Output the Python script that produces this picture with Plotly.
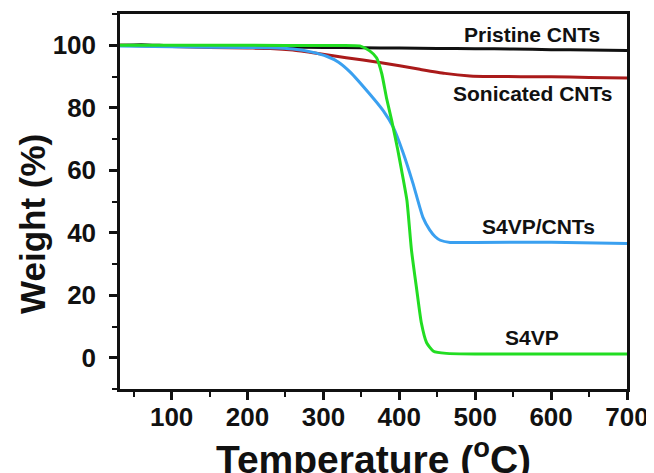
import plotly.graph_objects as go

# Temperature (°C) and weight (%) for each sample
pristine_T = [32, 60, 100, 150, 200, 250, 300, 350, 400, 450, 500, 550, 600, 650, 700]
pristine_W = [100, 100.2, 99.8, 99.6, 99.5, 99.4, 99.3, 99.2, 99.1, 99.0, 98.9, 98.8, 98.6, 98.5, 98.3]

sonic_T = [32, 100, 150, 200, 230, 260, 295, 330, 374, 427, 460, 493, 520, 600, 650, 700]
sonic_W = [100, 99.6, 99.3, 99.1, 99.0, 98.5, 97.3, 96.0, 94.5, 92.3, 91.0, 90.2, 90.0, 89.9, 89.7, 89.5]

s4vpcnt_T = [32, 100, 200, 230, 260, 285, 305, 320, 335, 361, 379, 392, 405, 418, 431, 440, 447, 454, 467, 500, 600, 700]
s4vpcnt_W = [99.8, 99.5, 99.3, 99.2, 98.8, 97.8, 96.4, 94.6, 91.5, 84.4, 79.0, 73.8, 65.6, 55.8, 45.0, 40.9, 38.8, 37.6, 36.9, 36.9, 37.0, 36.6]

s4vp_T = [32, 100, 200, 300, 348, 361, 370, 377, 383, 390, 398, 403, 410, 416, 423, 429, 436, 445, 462, 500, 600, 700]
s4vp_W = [100, 100, 100, 99.9, 99.8, 98.2, 96.0, 90.8, 83.3, 75.9, 66.5, 60.0, 50.4, 34.5, 21.7, 11.2, 4.8, 2.1, 1.4, 1.2, 1.2, 1.2]

labels = ["Pristine CNTs", "Sonicated CNTs", "S4VP/CNTs", "S4VP"]
label_T = [575, 576, 584, 575]
label_W = [103.6, 84.5, 41.9, 6.5]

x_ticks = [100, 200, 300, 400, 500, 600, 700]
y_ticks = [0, 20, 40, 60, 80, 100]

FONT = "Liberation Sans, Arial, sans-serif"

fig = go.Figure()
series = [
    (pristine_T, pristine_W, "#111111"),
    (sonic_T, sonic_W, "#aa1a1a"),
    (s4vpcnt_T, s4vpcnt_W, "#3aa0f0"),
    (s4vp_T, s4vp_W, "#22dd22"),
]
for t, w, c in series:
    fig.add_trace(go.Scatter(x=t, y=w, mode="lines", line=dict(color=c, width=3, shape="spline", smoothing=0.5),
                             showlegend=False, hoverinfo="skip"))

for txt, tx, ty in zip(labels, label_T, label_W):
    fig.add_annotation(x=tx, y=ty, text="<b>" + txt + "</b>", showarrow=False,
                       font=dict(family=FONT, size=21, color="#111111"), xanchor="center", yanchor="middle")

# axis titles
fig.add_annotation(x=0.5, y=-0.109, xref="paper", yref="paper", text="<b>Temperature (<sup>o</sup>C)</b>",
                   showarrow=False, xanchor="center", yanchor="top",
                   font=dict(family=FONT, size=39, color="#111111"))
fig.add_annotation(x=-0.173, y=0.441, xref="paper", yref="paper", text="<b>Weight (%)</b>", textangle=-90,
                   showarrow=False, xanchor="center", yanchor="middle",
                   font=dict(family=FONT, size=35, color="#111111"))

axis_common = dict(showline=True, linecolor="#111111", linewidth=2.5, mirror=True, ticks="outside",
                   tickwidth=2.5, ticklen=8, tickcolor="#111111", showgrid=False, zeroline=False,
                   tickfont=dict(family=FONT, size=26, color="#111111"))

fig.update_xaxes(range=[32, 700], tickvals=x_ticks, ticktext=["<b>%d</b>" % v for v in x_ticks],
                 minor=dict(ticks="outside", ticklen=5, tickwidth=2, tickcolor="#111111", dtick=50, tick0=0),
                 ticklabelstandoff=-5, **axis_common)
fig.update_yaxes(range=[-10, 110], tickvals=y_ticks, ticktext=["<b>%d</b>" % v for v in y_ticks],
                 minor=dict(ticks="outside", ticklen=5, tickwidth=2, tickcolor="#111111", dtick=10, tick0=0),
                 ticklabelstandoff=8, **axis_common)

# page body has an 8px default margin, so the figure is offset by 8px at top-left
fig.update_layout(width=646, height=465, margin=dict(l=112, r=27, t=6, b=84, autoexpand=False),
                  plot_bgcolor="white", paper_bgcolor="white")

fig.write_html("out.html")
